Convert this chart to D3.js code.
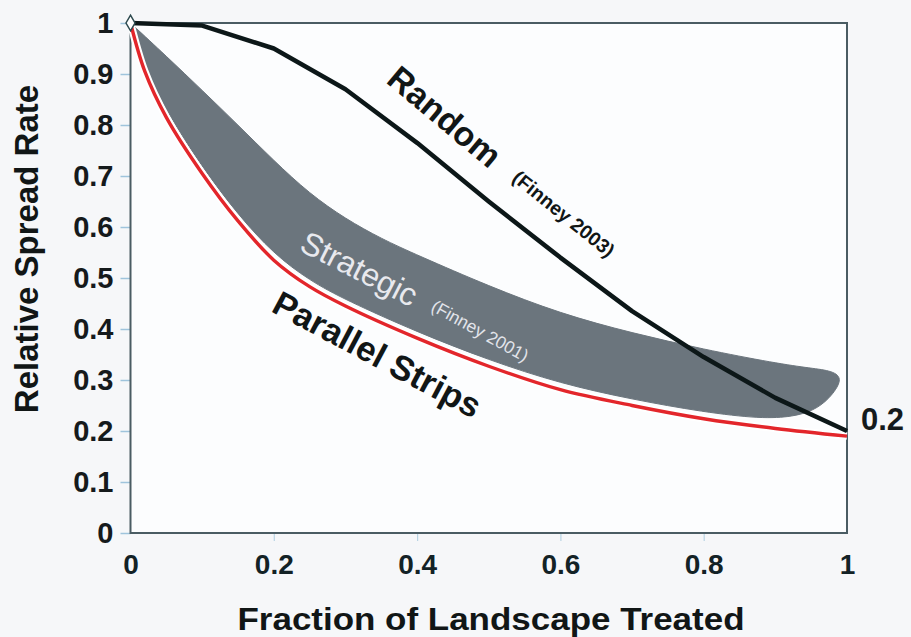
<!DOCTYPE html>
<html>
<head>
<meta charset="utf-8">
<script src="https://cdn.jsdelivr.net/npm/d3@7"></script>
<style>
  html, body { margin: 0; padding: 0; background: #f6f7f9; }
  svg { display: block; }
  text { font-family: "Liberation Sans", Arial, sans-serif; }
</style>
</head>
<body>
<script>
// ---------- data ----------
const xTicks = [0, 0.2, 0.4, 0.6, 0.8, 1];
const xTickLabels = ["0", "0.2", "0.4", "0.6", "0.8", "1"];
const yTicks = [0, 0.1, 0.2, 0.3, 0.4, 0.5, 0.6, 0.7, 0.8, 0.9, 1];
const yTickLabels = ["0", "0.1", "0.2", "0.3", "0.4", "0.5", "0.6", "0.7", "0.8", "0.9", "1"];

// Random (Finney 2003)
const randomX = [0, 0.1, 0.2, 0.3, 0.4, 0.5, 0.6, 0.7, 0.8, 0.9, 1];
const randomY = [1.0, 0.995, 0.95, 0.87, 0.765, 0.65, 0.54, 0.435, 0.345, 0.265, 0.2];

// Parallel Strips
const stripsX = [0, 0.02, 0.05, 0.1, 0.15, 0.2, 0.25, 0.3, 0.4, 0.5, 0.6, 0.7, 0.8, 0.9, 1];
const stripsY = [1.0, 0.905, 0.815, 0.705, 0.612, 0.535, 0.483, 0.445, 0.382, 0.327, 0.281, 0.25, 0.224, 0.205, 0.19];

// Strategic (Finney 2001) band: upper edge (left to right), then lower edge (right to left)
const bandUpperX = [0, 0.05, 0.1, 0.15, 0.2, 0.25, 0.3, 0.35, 0.4, 0.5, 0.6, 0.7, 0.8, 0.9, 0.95, 0.98, 0.995];
const bandUpperY = [1.0, 0.935, 0.868, 0.8, 0.73, 0.665, 0.616, 0.577, 0.545, 0.484, 0.43, 0.392, 0.36, 0.333, 0.323, 0.318, 0.302];
const bandLowerX = [0.975, 0.953, 0.925, 0.88, 0.8, 0.7, 0.6, 0.5, 0.4, 0.3, 0.25, 0.2, 0.15, 0.1, 0.05, 0.02];
const bandLowerY = [0.262, 0.24, 0.228, 0.224, 0.237, 0.262, 0.293, 0.339, 0.394, 0.457, 0.495, 0.547, 0.624, 0.717, 0.827, 0.915];

// ---------- layout ----------
const W = 911, H = 637;
const svg = d3.select("body").append("svg").attr("width", W).attr("height", H);

const x = d3.scaleLinear().domain([0, 1]).range([130.5, 847]);
const y = d3.scaleLinear().domain([0, 1]).range([533, 23]);

// plot background
svg.append("rect")
  .attr("x", x(0)).attr("y", y(1))
  .attr("width", x(1) - x(0)).attr("height", y(0) - y(1))
  .attr("fill", "#fcfdfe");

// ---------- axes ----------
const yAxis = d3.axisLeft(y).tickValues(yTicks).tickSize(10).tickFormat((d, i) => yTickLabels[i]);
const gy = svg.append("g").attr("transform", `translate(${x(0)},0)`).call(yAxis);
gy.select(".domain").remove();
gy.selectAll(".tick line").attr("stroke", "#9fc4dc").attr("stroke-width", 1.5);
gy.selectAll(".tick text")
  .attr("x", -17)
  .attr("font-size", 29).attr("font-weight", "bold").attr("fill", "#151a1c")
  .attr("font-family", "Liberation Sans, Arial, sans-serif");

const xAx = d3.axisBottom(x).tickValues(xTicks).tickSize(8).tickFormat((d, i) => xTickLabels[i]);
const gx = svg.append("g").attr("transform", `translate(0,${y(0)})`).call(xAx);
gx.select(".domain").remove();
gx.selectAll(".tick line").attr("stroke", "#b9d4e4").attr("stroke-width", 1.2)
  .attr("display", (d) => (d === 0 || d === 1) ? "none" : null);
gx.selectAll(".tick text")
  .attr("y", 21).attr("dy", "0.71em")
  .attr("font-size", 28).attr("font-weight", "bold").attr("fill", "#132226")
  .attr("font-family", "Liberation Sans Narrow, Liberation Sans, Arial, sans-serif");

// frame
svg.append("rect")
  .attr("x", x(0)).attr("y", y(1))
  .attr("width", x(1) - x(0)).attr("height", y(0) - y(1))
  .attr("fill", "none").attr("stroke", "#4a5c63").attr("stroke-width", 2);

// ---------- band ----------
// origin repeated so the closed B-spline keeps its sharp tip at (0, 1)
const bandPts = [[0, 1], [0, 1]]
  .concat(bandUpperX.map((d, i) => [d, bandUpperY[i]]))
  .concat(bandLowerX.map((d, i) => [d, bandLowerY[i]]));
const bandLine = d3.line().x(d => x(d[0])).y(d => y(d[1])).curve(d3.curveBasisClosed);
svg.append("path").attr("d", bandLine(bandPts))
  .attr("fill", "#6b757d").attr("stroke", "#6b757d").attr("stroke-width", 1);

// ---------- parallel strips ----------
const stripsLine = d3.line().x((d, i) => x(stripsX[i])).y(d => y(d)).curve(d3.curveCatmullRom.alpha(0.5));
svg.append("path").attr("d", stripsLine(stripsY))
  .attr("fill", "none").attr("stroke", "#ffffff").attr("stroke-width", 7.5);
svg.append("path").attr("d", stripsLine(stripsY))
  .attr("fill", "none").attr("stroke", "#e3262b").attr("stroke-width", 3.4);

// ---------- random ----------
const randomLine = d3.line().x((d, i) => x(randomX[i])).y(d => y(d)).curve(d3.curveLinear);
svg.append("path").attr("d", randomLine(randomY))
  .attr("fill", "none").attr("stroke", "#0c1718").attr("stroke-width", 4.5)
  .attr("stroke-linejoin", "round");

// diamond marker at origin
svg.append("path")
  .attr("d", d3.symbol().type(d3.symbolDiamond).size(70)())
  .attr("transform", `translate(${x(0)},${y(1)})`)
  .attr("fill", "#ffffff").attr("stroke", "#2d4a4f").attr("stroke-width", 1.5);

// ---------- annotations ----------
function label(txt, px, py, angle, size, weight, color) {
  svg.append("text")
    .attr("transform", `translate(${px},${py}) rotate(${angle})`)
    .attr("font-size", size).attr("font-weight", weight).attr("fill", color)
    .text(txt);
}
label("Random", 385, 82, 40, 34, "bold", "#111616");
label("(Finney 2003)", 511, 180, 39, 19.5, "bold", "#111616");
label("Strategic", 298, 250, 27, 32, "normal", "#e8e9ee");
label("(Finney 2001)", 430, 310, 29, 17.5, "normal", "#e2e4ea");
label("Parallel Strips", 270, 311, 28, 34.5, "bold", "#111616");

// end value label
svg.append("text")
  .attr("x", 861).attr("y", y(0.2) - 1)
  .attr("font-size", 31).attr("font-weight", "bold").attr("fill", "#151a1c")
  .text("0.2");

// axis titles
svg.append("text")
  .attr("x", 491).attr("y", 630)
  .attr("text-anchor", "middle")
  .attr("font-size", 32).attr("font-weight", "bold").attr("fill", "#111616")
  .attr("textLength", 507).attr("lengthAdjust", "spacingAndGlyphs")
  .text("Fraction of Landscape Treated");

svg.append("text")
  .attr("transform", `translate(38,249) rotate(-90)`)
  .attr("text-anchor", "middle")
  .attr("font-size", 33).attr("font-weight", "bold").attr("fill", "#111616")
  .text("Relative Spread Rate");
</script>
</body>
</html>
